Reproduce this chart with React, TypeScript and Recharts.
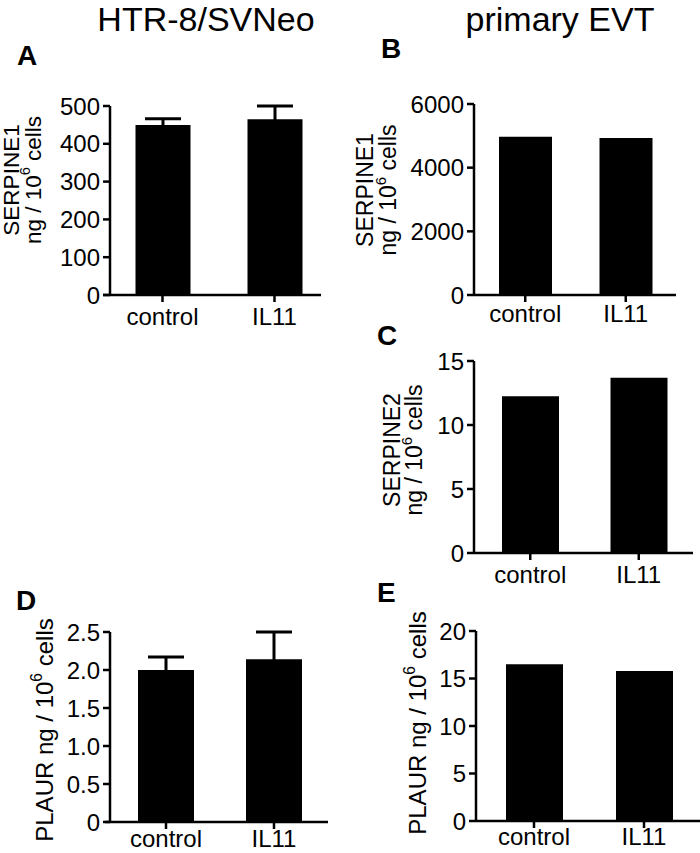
import React from 'react';
import { BarChart, Bar, XAxis, YAxis, ErrorBar } from 'recharts';

const FONT = '"Liberation Sans", Arial, Helvetica, sans-serif';

// categories
const groups = ['control', 'IL11'];

// HTR-8/SVNeo
const serpine1Htr = [450, 465];
const serpine1HtrErr = [16, 35];
const plaurHtr = [2.0, 2.14];
const plaurHtrErr = [0.17, 0.36];

// primary EVT
const serpine1Evt = [4970, 4930];
const serpine2Evt = [12.25, 13.7];
const plaurEvt = [16.5, 15.8];

// y ticks
const ticksA = [0, 100, 200, 300, 400, 500];
const ticksB = [0, 2000, 4000, 6000];
const ticksC = [0, 5, 10, 15];
const ticksD = [0, 0.5, 1.0, 1.5, 2.0, 2.5];
const ticksE = [0, 5, 10, 15, 20];

type LabelLine = { text: string; sup?: string; after?: string; x: number };

const YTitle = ({ lines, cy, size }: { lines: LabelLine[]; cy: number; size: number }) => (
  <g>
    {lines.map((l, i) => (
      <text
        key={i}
        x={l.x}
        y={cy}
        transform={`rotate(-90, ${l.x}, ${cy})`}
        textAnchor="middle"
        dominantBaseline="central"
        fontSize={size}
        fontFamily={FONT}
        fill="#000"
      >
        {l.text}
        {l.sup && <tspan dy={-8} fontSize={size * 0.65}>{l.sup}</tspan>}
        {l.after && <tspan dy={8}>{l.after}</tspan>}
      </text>
    ))}
  </g>
);

interface PanelProps {
  left: number;
  top: number;
  width: number;
  height: number;
  x0: number; // x axis start
  yAxisX: number;
  x1: number; // x axis end
  yTop: number;
  yBottom: number;
  padL: number;
  padR: number;
  values: number[];
  errors?: number[];
  domain: [number, number];
  ticks: number[];
  fmt?: (v: number) => string;
  barSize: number;
  xTickMargin: number;
  xAxisH?: number;
  lines: LabelLine[];
  titleCy: number;
  titleSize: number;
}

function Panel(p: PanelProps) {
  const data = groups.map((g, i) => ({
    name: g,
    value: p.values[i],
    err: p.errors ? p.errors[i] : 0,
  }));
  const shift = p.yAxisX - p.x0;
  const xAxisH = p.xAxisH ?? 34;
  const margin = {
    top: p.yTop - p.top,
    right: p.left + p.width - p.x1,
    bottom: p.top + p.height - p.yBottom - xAxisH,
    left: 0,
  };
  // label coords are local to the chart svg
  const local = p.lines.map((l) => ({ ...l, x: l.x - p.left }));
  return (
    <div style={{ position: 'absolute', left: p.left, top: p.top }}>
      <BarChart width={p.width} height={p.height} data={data} margin={margin}>
        <XAxis
          dataKey="name"
          height={xAxisH}
          padding={{ left: p.padL, right: p.padR }}
          axisLine={{ stroke: '#000', strokeWidth: 2.5 }}
          tickLine={{ stroke: '#000', strokeWidth: 2.5 }}
          tickSize={7}
          tickMargin={p.xTickMargin}
          tick={{ fill: '#000', fontSize: 24, fontFamily: FONT }}
        />
        <YAxis
          type="number"
          width={p.x0 - p.left}
          domain={p.domain}
          ticks={p.ticks}
          interval={0}
          tickFormatter={p.fmt}
          axisLine={{ stroke: '#000', strokeWidth: 2.5, transform: `translate(${shift},0)` }}
          tickLine={{ stroke: '#000', strokeWidth: 2.5, transform: `translate(${shift},0)` }}
          tickSize={7}
          tickMargin={3 - shift}
          tick={{ fill: '#000', fontSize: 24, fontFamily: FONT }}
          label={{
            content: () => <YTitle lines={local} cy={p.titleCy - p.top} size={p.titleSize} />,
          }}
        />
        <Bar dataKey="value" fill="#000" barSize={p.barSize} isAnimationActive={false}>
          {p.errors && (
            <ErrorBar dataKey="err" width={18} strokeWidth={3} stroke="#000" direction="y" />
          )}
        </Bar>
      </BarChart>
    </div>
  );
}

const fmtD = (v: number) => (v === 0 ? '0' : v.toFixed(1));

export default function App() {
  return (
    <div
      style={{
        position: 'fixed',
        left: 0,
        top: 0,
        width: 700,
        height: 853,
        overflow: 'hidden',
        background: '#fff',
      }}
    >
      <svg width={700} height={853} style={{ position: 'absolute', left: 0, top: 0 }}>
        <g fontFamily={FONT} fill="#000">
          <text x={206} y={31} fontSize={34} textAnchor="middle">HTR-8/SVNeo</text>
          <text x={560} y={31} fontSize={34} textAnchor="middle">primary EVT</text>
          <g fontSize={28} fontWeight="bold">
            <text x={17} y={65}>A</text>
            <text x={381} y={58}>B</text>
            <text x={377} y={345}>C</text>
            <text x={16} y={610}>D</text>
            <text x={377} y={602}>E</text>
          </g>
        </g>
      </svg>

      <Panel
        left={0} top={80} width={340} height={260}
        x0={103} yAxisX={110} x1={321} yTop={106} yBottom={295}
        padL={3.5} padR={-9.5}
        values={serpine1Htr} errors={serpine1HtrErr}
        domain={[0, 500]} ticks={ticksA} barSize={55} xTickMargin={6}
        lines={[
          { text: 'SERPINE1', x: 11 },
          { text: 'ng / 10', sup: '6', after: ' cells', x: 33 },
        ]}
        titleCy={180}
        titleSize={22.5}
      />

      <Panel
        left={350} top={80} width={350} height={260}
        x0={474} yAxisX={474} x1={676} yTop={104} yBottom={295}
        padL={1} padR={0}
        values={serpine1Evt}
        domain={[0, 6000]} ticks={ticksB} barSize={53} xTickMargin={3}
        lines={[
          { text: 'SERPINE1', x: 365 },
          { text: 'ng / 10', sup: '6', after: ' cells', x: 388 },
        ]}
        titleCy={190}
        titleSize={23}
      />

      <Panel
        left={350} top={340} width={350} height={250}
        x0={474} yAxisX={474} x1={693} yTop={361} yBottom={553}
        padL={2} padR={0}
        values={serpine2Evt}
        domain={[0, 15]} ticks={ticksC} barSize={57} xTickMargin={6}
        lines={[
          { text: 'SERPINE2', x: 392 },
          { text: 'ng / 10', sup: '6', after: ' cells', x: 414 },
        ]}
        titleCy={450}
        titleSize={23}
      />

      <Panel
        left={0} top={600} width={350} height={253}
        x0={105} yAxisX={110} x1={328} yTop={632} yBottom={822}
        padL={7} padR={0}
        values={plaurHtr} errors={plaurHtrErr}
        domain={[0, 2.5]} ticks={ticksD} fmt={fmtD} barSize={56} xTickMargin={1} xAxisH={31}
        lines={[{ text: 'PLAUR ng / 10', sup: '6', after: ' cells', x: 44 }]}
        titleCy={730}
        titleSize={24}
      />

      <Panel
        left={350} top={600} width={350} height={253}
        x0={476} yAxisX={476} x1={700} yTop={631} yBottom={821}
        padL={3} padR={1}
        values={plaurEvt}
        domain={[0, 20]} ticks={ticksE} barSize={57} xTickMargin={0} xAxisH={32}
        lines={[{ text: 'PLAUR ng / 10', sup: '6', after: ' cells', x: 417 }]}
        titleCy={723}
        titleSize={24}
      />
    </div>
  );
}
